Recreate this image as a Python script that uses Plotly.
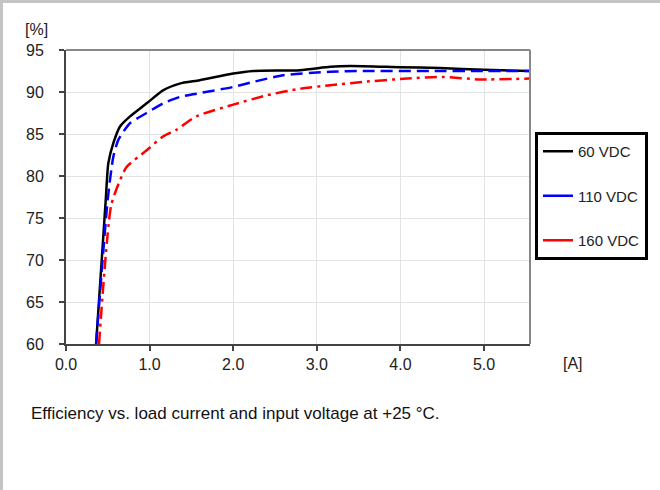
import plotly.graph_objects as go

# Data
x_60 = [0.36, 0.475, 0.506, 0.566, 0.646, 0.766, 0.965, 1.16, 1.36, 1.60, 2.00, 2.24, 2.80, 3.16, 3.40, 4.00, 4.47, 5.00, 5.55]
y_60 = [60.0, 77.1, 81.5, 83.9, 85.9, 87.1, 88.65, 90.2, 91.0, 91.4, 92.2, 92.5, 92.6, 93.0, 93.1, 92.95, 92.85, 92.65, 92.5]

x_110 = [0.36, 0.498, 0.566, 0.626, 0.766, 0.965, 1.16, 1.36, 1.56, 2.00, 2.24, 2.60, 3.16, 3.55, 4.35, 5.00, 5.55]
y_110 = [60.0, 77.1, 82.3, 84.3, 86.3, 87.5, 88.65, 89.4, 89.8, 90.6, 91.2, 92.0, 92.4, 92.5, 92.5, 92.5, 92.5]

x_160 = [0.395, 0.54, 0.646, 0.726, 0.945, 1.16, 1.32, 1.56, 2.00, 2.40, 2.80, 3.16, 3.55, 4.08, 4.50, 4.95, 5.55]
y_160 = [60.0, 76.5, 79.5, 81.1, 82.9, 84.7, 85.5, 87.1, 88.5, 89.6, 90.4, 90.8, 91.2, 91.6, 91.8, 91.5, 91.6]

series_names = ["60 VDC", "110 VDC", "160 VDC"]
series_colors = ["#000000", "#0000ff", "#ff0000"]
series_dash = ["solid", "12px,6px", "12px,5px,3px,5px"]

x_ticks = [0, 1, 2, 3, 4, 5]
x_tick_labels = ["0.0", "1.0", "2.0", "3.0", "4.0", "5.0"]
y_ticks = [60, 65, 70, 75, 80, 85, 90, 95]

caption = "Efficiency vs. load current and input voltage at +25 °C."

FONT = "Liberation Sans, Arial, sans-serif"

fig = go.Figure()
for xs, ys, name, col, dash in zip([x_60, x_110, x_160], [y_60, y_110, y_160],
                                   series_names, series_colors, series_dash):
    fig.add_trace(go.Scatter(x=xs, y=ys, mode="lines", name=name, showlegend=False,
                             line=dict(color=col, width=2.5, dash=dash, shape="spline", smoothing=0.6),
                             hoverinfo="skip"))
# legend entries (solid samples like the reference)
for i, (name, col) in enumerate(zip(series_names, series_colors)):
    fig.add_trace(go.Scatter(x=[None], y=[None], mode="lines", name=name,
                             legendgroup=f"g{i}",
                             line=dict(color=col, width=2.5)))

L, T, W, H = 66, 50, 464, 294
fig.update_layout(
    width=660, height=490,
    margin=dict(l=L, r=660 - L - W, t=T, b=490 - T - H, pad=0),
    paper_bgcolor="white", plot_bgcolor="white",
    font=dict(family=FONT, color="#222222"),
    showlegend=True,
    legend=dict(x=(535 - L) / W, y=(344 - 132) / H, xanchor="left", yanchor="top",
                bordercolor="black", borderwidth=3, bgcolor="white",
                font=dict(size=15, color="#222222", family=FONT),
                tracegroupgap=22, itemwidth=30),
    xaxis=dict(range=[0, 5.55], tickvals=x_ticks, ticktext=x_tick_labels,
               showgrid=True, gridcolor="#e3e3e3", gridwidth=1,
               showline=True, linecolor="#444444", linewidth=2,
               ticks="outside", ticklen=5, tickcolor="#444444", tickwidth=1.5,
               tickfont=dict(size=16, color="#222222"), zeroline=False),
    yaxis=dict(range=[60, 95], tickvals=y_ticks,
               showgrid=True, gridcolor="#e3e3e3", gridwidth=1,
               showline=True, linecolor="#444444", linewidth=2,
               ticks="outside", ticklen=5, tickcolor="#444444", tickwidth=1.5,
               tickfont=dict(size=16, color="#222222"), zeroline=False,
               ticklabelstandoff=12),
)

# top and right plot borders (lighter gray)
fig.add_shape(type="line", xref="paper", yref="paper", x0=0, x1=1, y0=1, y1=1,
              line=dict(color="#888888", width=2))
fig.add_shape(type="line", xref="paper", yref="paper", x0=1, x1=1, y0=0, y1=1,
              line=dict(color="#888888", width=2))
# outer frame (gray, left and top)
fig.add_shape(type="line", xref="paper", yref="paper",
              x0=(1.5 - L) / W, x1=(1.5 - L) / W, y0=(T + H - 490) / H, y1=(T + H - 1.5) / H,
              line=dict(color="#c4c4c4", width=3))
fig.add_shape(type="line", xref="paper", yref="paper",
              x0=(0 - L) / W, x1=(660 - L) / W, y0=(T + H - 1.5) / H, y1=(T + H - 1.5) / H,
              line=dict(color="#c4c4c4", width=3))

fig.add_annotation(text="[%]", xref="paper", yref="paper", x=(36 - L) / W, y=(T + H - 30) / H,
                   showarrow=False, font=dict(size=16, color="#222222"), xanchor="center", yanchor="middle")
fig.add_annotation(text="[A]", xref="paper", yref="paper", x=(573 - L) / W, y=(T + H - 363) / H,
                   showarrow=False, font=dict(size=16, color="#222222"), xanchor="center", yanchor="middle")
fig.add_annotation(text=caption, xref="paper", yref="paper", x=(29 - L) / W, y=(T + H - 413) / H,
                   showarrow=False, font=dict(size=17, color="#111111"), xanchor="left", yanchor="middle")

fig.write_html("out.html", config={"displayModeBar": False},
               post_script="document.body.style.margin='0';document.body.style.overflow='hidden';")
